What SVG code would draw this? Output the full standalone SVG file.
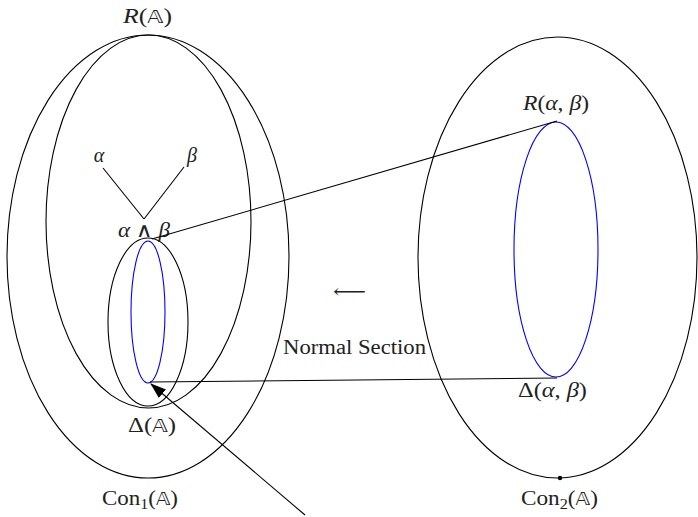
<svg xmlns="http://www.w3.org/2000/svg" width="698" height="517" viewBox="0 0 698 517">
<style>
.k{fill:none;stroke:#000;stroke-width:1.1}
.b{fill:none;stroke:#0000ff;stroke-width:1.1}
text{font-family:"Liberation Serif","DejaVu Serif",serif;font-size:20px;fill:#222}
.m{font-style:italic}
.bb{font-family:"DejaVu Sans","DejaVu Serif",sans-serif;font-style:normal;font-size:17px}
</style>
<defs>
<marker id="ah" markerWidth="16" markerHeight="11" refX="15" refY="5.5" orient="auto" markerUnits="userSpaceOnUse">
<path d="M0,0 L16,5.5 L0,11 Z" fill="#000"/>
</marker>
</defs>
<g id="con1"><ellipse class="k" cx="148" cy="256.5" rx="141" ry="221.5"/>
<text x="102" y="505" textLength="76" lengthAdjust="spacingAndGlyphs">Con<tspan font-size="14" dy="4">1</tspan><tspan dy="-4">(</tspan><tspan class="bb">𝔸</tspan>)</text></g>
<g id="RA"><ellipse class="k" cx="148.5" cy="221.5" rx="102.5" ry="186.5"/>
<text x="123" y="23" textLength="49" lengthAdjust="spacingAndGlyphs"><tspan class="m">R</tspan>(<tspan class="bb">𝔸</tspan>)</text></g>
<g id="DA"><ellipse class="k" cx="148" cy="322" rx="40" ry="84"/>
<text x="128" y="432" textLength="48" lengthAdjust="spacingAndGlyphs">Δ(<tspan class="bb">𝔸</tspan>)</text></g>
<g id="blueL"><ellipse class="b" cx="148" cy="312" rx="17" ry="71"/></g>
<g id="alpha"><text x="99" y="162" text-anchor="middle" class="m">α</text></g>
<g id="beta"><text x="192" y="162" text-anchor="middle" class="m">β</text></g>
<g id="meet"><text x="118" y="237" textLength="52" lengthAdjust="spacingAndGlyphs"><tspan class="m">α</tspan> ∧ <tspan class="m">β</tspan></text></g>
<g id="con2"><ellipse class="k" cx="557.5" cy="257.5" rx="139.5" ry="220.5"/>
<circle cx="560" cy="478" r="2.2" fill="#000"/>
<text x="521" y="505" textLength="77" lengthAdjust="spacingAndGlyphs">Con<tspan font-size="14" dy="4">2</tspan><tspan dy="-4">(</tspan><tspan class="bb">𝔸</tspan>)</text></g>
<g id="blueR"><ellipse class="b" cx="556" cy="249.5" rx="42" ry="127.5"/>
<text x="523" y="110" textLength="66" lengthAdjust="spacingAndGlyphs"><tspan class="m">R</tspan>(<tspan class="m">α</tspan>, <tspan class="m">β</tspan>)</text>
<text x="518" y="397" textLength="69" lengthAdjust="spacingAndGlyphs">Δ(<tspan class="m">α</tspan>, <tspan class="m">β</tspan>)</text></g>
<g id="label"><text x="333" y="298" font-family="DejaVu Sans" font-size="22" textLength="33" lengthAdjust="spacingAndGlyphs">⟵</text>
<text x="283" y="354" textLength="143" lengthAdjust="spacingAndGlyphs">Normal Section</text></g>
<g id="connectors">
<line class="k" x1="103" y1="168" x2="144" y2="219"/>
<line class="k" x1="184" y1="167" x2="144" y2="219"/>
<line class="k" x1="152" y1="239" x2="557" y2="121"/>
<line class="k" x1="150" y1="382" x2="557" y2="378"/>
<line class="k" x1="305" y1="515" x2="151" y2="384" marker-end="url(#ah)"/>
</g>
</svg>
